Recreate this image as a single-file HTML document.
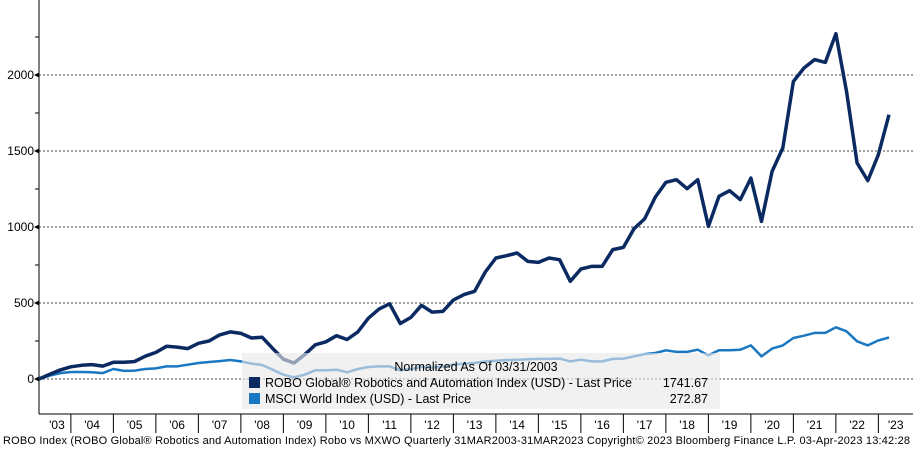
<!DOCTYPE html>
<html><head><meta charset="utf-8"><style>
html,body{margin:0;padding:0;background:#fff;}
svg{display:block;font-family:"Liberation Sans Narrow","Liberation Sans",sans-serif;}
</style></head><body>
<svg id="chart" width="913" height="449" viewBox="0 0 913 449"></svg>
<script>
const years=["'03","'04","'05","'06","'07","'08","'09","'10","'11","'12","'13","'14","'15","'16","'17","'18","'19","'20","'21","'22","'23"];
const yTicks=[0,500,1000,1500,2000];
const roboValues=[0,30,60,80, 90,95,85,110, 110,115,150,175, 215,210,200,235, 250,290,310,300, 270,275,200,130, 105,160,225,245, 285,260,310,400, 460,495,365,405, 485,440,445,520, 555,577,704,796, 811,829,774,767, 796,785,643,724, 741,741,851,866, 989,1053,1197,1294, 1311,1252,1311,1004, 1202,1239,1180,1322, 1037,1366,1520,1958, 2046,2101,2083,2272, 1893,1421,1305,1476, 1739];
const msciValues=[0,22,39,46, 46,44,39,66, 53,55,66,70, 83,83,94,105, 112,118,125,116, 101,92,61,28, 11,28,57,57, 61,44,66,79, 83,83,57,65, 80,75,80,95, 100,105,115,120, 125,127,130,132, 132,134,116,127, 116,116,132,134, 149,164,171,189, 178,178,193,156, 189,189,193,221, 149,200,221,270, 285,303,303,340, 314,248,221,254, 273];
const legendLabels=["ROBO Global\u00AE Robotics and Automation Index (USD) - Last Price","MSCI World Index (USD) - Last Price"];
const legendValues=["1741.67","272.87"];

const NS="http://www.w3.org/2000/svg";
const svg=document.getElementById('chart');
function el(t,a,p){const e=document.createElementNS(NS,t);for(const k in a)e.setAttribute(k,a[k]);(p||svg).appendChild(e);return e;}
const x0=39,x1=889,yZero=379,pxPer=76/500,axisBottom=414;
const xq=i=>x0+i*(x1-x0)/80;
const yv=v=>yZero-v*pxPer;

// grid
yTicks.forEach(v=>{
  const g=el('line',{x1:x0,x2:913,y1:yv(v),y2:yv(v),stroke:'#444','stroke-width':1,'stroke-dasharray':'2,2'});
  
  
  const t=el('text',{x:34,y:yv(v)+4,'text-anchor':'end','font-size':12,fill:'#000'});
  t.textContent=v;
  
  
  const tk=el('polygon',{points:`${x0-5},${yv(v)} ${x0},${yv(v)-2.5} ${x0},${yv(v)+2.5}`,fill:'#000'});
  
  
});
for(let v=250;v<2300;v+=500){
  const m=el('line',{x1:x0-4,x2:x0,y1:yv(v),y2:yv(v),stroke:'#000'});
  
  
}
// axes
const ya=el('line',{x1:x0,x2:x0,y1:0,y2:axisBottom,stroke:'#000'});


const xa=el('line',{x1:x0,x2:913,y1:axisBottom,y2:axisBottom,stroke:'#000'});


years.forEach((y,k)=>{
  const start=Math.max(x0,xq(k*4-1)), end=Math.min(913,xq(k*4+3));
  if(k>0){const s=el('line',{x1:start,x2:start,y1:axisBottom,y2:433,stroke:'#000'});
  
  }
  const t=el('text',{x:(start+end)/2+(k==0?2:0),y:429,'text-anchor':'middle','font-size':12,fill:'#000'});
  t.textContent=y;
  
  
});
function path(vals){return vals.map((v,i)=>(i?'L':'M')+xq(i).toFixed(1)+','+yv(v).toFixed(1)).join(' ');}
const pm=el('path',{d:path(msciValues),fill:'none',stroke:'#1a78c2','stroke-width':2.5,'stroke-linejoin':'round'});


const pr=el('path',{d:path(roboValues),fill:'none',stroke:'#0b2a62','stroke-width':3.5,'stroke-linejoin':'round'});


// legend
const lg=el('g',{});


el('rect',{x:242,y:353,width:478,height:56,fill:'rgba(232,232,232,0.62)'},lg);
const lt=el('text',{x:476,y:371,'text-anchor':'middle','font-size':12.5,fill:'#000'},lg);
lt.textContent="Normalized As Of 03/31/2003";


const cols=['#0b2a62','#1a78c2'];
legendLabels.forEach((l,i)=>{
  const yy=387+i*16;
  const r=el('rect',{x:249,y:yy-10,width:11,height:11,fill:cols[i]},lg);
  
  
  const t=el('text',{x:265,y:yy,'font-size':12.5,fill:'#000'},lg);
  t.textContent=l;
  
  
  const v=el('text',{x:708,y:yy,'text-anchor':'end','font-size':12.5,fill:'#000'},lg);
  v.textContent=legendValues[i];
  
  
});
const f=el('text',{x:3,y:444,'font-size':11,fill:'#000'});
f.textContent="ROBO Index (ROBO Global\u00AE Robotics and Automation Index) Robo vs MXWO  Quarterly 31MAR2003-31MAR2023   Copyright\u00A9 2023 Bloomberg Finance L.P.   03-Apr-2023 13:42:28";


f.setAttribute('textLength','907');
</script>
</body></html>
